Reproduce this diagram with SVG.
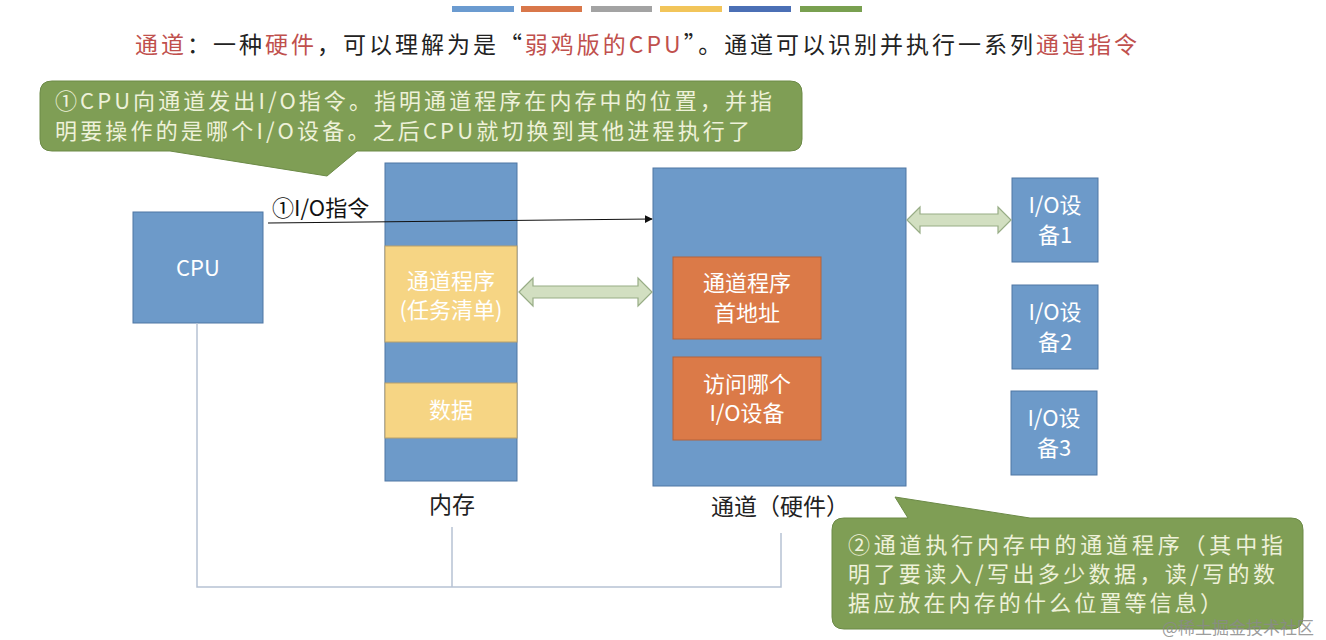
<svg xmlns="http://www.w3.org/2000/svg" width="1326" height="640" viewBox="0 0 1326 640">
<defs>
<style>
.blue{fill:#6d9ac9;stroke:#4f76a3;stroke-width:1}
.yel{fill:#f6d584;stroke:#b9a06a;stroke-width:1}
.org{fill:#db7a48;stroke:#b5623a;stroke-width:1}
.call{fill:#7f9e55;stroke:#6c8a47;stroke-width:1}
.dbl{fill:#d2dfc1;stroke:#98ad86;stroke-width:1.2}
.t{font-family:"Noto Sans CJK SC","Liberation Sans",sans-serif}
.wt{fill:#ffffff;font-size:22px;text-anchor:middle}
.ct{fill:#eef1d9;font-size:22px}
.lab{fill:#222;font-size:23px;text-anchor:middle}
.red{fill:#c0504d}
.conn{fill:none;stroke:#b6c2d3;stroke-width:1.5}
</style>
<marker id="ah" viewBox="0 0 10 10" refX="9" refY="5" markerWidth="8" markerHeight="8" markerUnits="userSpaceOnUse" orient="auto">
<path d="M0,0 L10,5 L0,10 Z" fill="#111"/>
</marker>
</defs>
<rect width="1326" height="640" fill="#ffffff"/>

<g id="colorbars">
<rect x="452" y="6" width="62" height="6" fill="#6b9bd0"/>
<rect x="521" y="6" width="61" height="6" fill="#d9774a"/>
<rect x="591" y="6" width="61" height="6" fill="#a3a3a3"/>
<rect x="660" y="6" width="62" height="6" fill="#f2c55a"/>
<rect x="729" y="6" width="62" height="6" fill="#4b6fb5"/>
<rect x="800" y="6" width="62" height="6" fill="#79a050"/>
</g>

<g id="title">
<text class="t" x="135" y="53" font-size="23" fill="#222" textLength="1002" lengthAdjust="spacing"><tspan class="red">通道</tspan>：一种<tspan class="red">硬件</tspan>，可以理解为是“<tspan class="red">弱鸡版的CPU</tspan>”。通道可以识别并执行一系列<tspan class="red">通道指令</tspan></text>
</g>

<g id="cpu">
<rect class="blue" x="133" y="212" width="130" height="111"/>
<text class="t wt" x="198" y="276">CPU</text>
</g>

<g id="memory">
<rect class="blue" x="385" y="163" width="132" height="318"/>
<rect class="yel" x="385" y="246" width="132" height="96"/>
<text class="t wt" x="451" y="289" fill="#fdf6e2">通道程序</text>
<text class="t wt" x="451" y="318" fill="#fdf6e2">(任务清单)</text>
<rect class="yel" x="385" y="383" width="132" height="55"/>
<text class="t wt" x="451" y="418" fill="#fdf6e2">数据</text>
<text class="t lab" x="452" y="513">内存</text>
</g>

<g id="channel">
<rect class="blue" x="653" y="168" width="253" height="318"/>
<rect class="org" x="673" y="257" width="148" height="82"/>
<text class="t wt" x="747" y="291" fill="#f8e6d8">通道程序</text>
<text class="t wt" x="747" y="321" fill="#f8e6d8">首地址</text>
<rect class="org" x="673" y="357" width="148" height="83"/>
<text class="t wt" x="747" y="392" fill="#f8e6d8">访问哪个</text>
<text class="t wt" x="747" y="421" fill="#f8e6d8">I/O设备</text>
<text class="t lab" x="780" y="515">通道（硬件）</text>
</g>

<g id="io1">
<rect class="blue" x="1012" y="178" width="86" height="84"/>
<text class="t wt" x="1055" y="213">I/O设</text>
<text class="t wt" x="1055" y="243">备1</text>
</g>
<g id="io2">
<rect class="blue" x="1012" y="285" width="86" height="84"/>
<text class="t wt" x="1055" y="320">I/O设</text>
<text class="t wt" x="1055" y="350">备2</text>
</g>
<g id="io3">
<rect class="blue" x="1011" y="391" width="86" height="84"/>
<text class="t wt" x="1054" y="426">I/O设</text>
<text class="t wt" x="1054" y="456">备3</text>
</g>

<g id="connectors">
<polyline class="conn" points="197,323 197,587 781,587 781,533"/>
<line class="conn" x1="452" y1="527" x2="452" y2="587"/>
<line x1="268" y1="223" x2="652" y2="219" stroke="#111" stroke-width="1.2" marker-end="url(#ah)"/>
<text class="t" x="272" y="216" font-size="22" fill="#111">①I/O指令</text>
<path class="dbl" d="M519,292 L533,278 V286 H638 V278 L652,292 L638,306 V298 H533 V306 Z"/>
<path class="dbl" d="M907,220 L920,207 V214 H998 V207 L1011,220 L998,233 V226 H920 V233 Z"/>
</g>

<g id="callout1">
<path class="call" d="M52,81 H790 Q802,81 802,93 V139 Q802,151 790,151 H357 L327,176 L170,151 H52 Q40,151 40,139 V93 Q40,81 52,81 Z"/>
<text class="t ct" x="55" y="109" textLength="717" lengthAdjust="spacing">①CPU向通道发出I/O指令。指明通道程序在内存中的位置，并指</text>
<text class="t ct" x="55" y="139" textLength="695" lengthAdjust="spacing">明要操作的是哪个I/O设备。之后CPU就切换到其他进程执行了</text>
</g>

<g id="callout2">
<path class="call" d="M844,518 H908 L895,497 L1030,518 H1291 Q1303,518 1303,530 V617 Q1303,629 1291,629 H844 Q832,629 832,617 V530 Q832,518 844,518 Z"/>
<text class="t ct" x="848" y="553" font-size="23" textLength="435" lengthAdjust="spacing">②通道执行内存中的通道程序（其中指</text>
<text class="t ct" x="848" y="582" font-size="23" textLength="427" lengthAdjust="spacing">明了要读入/写出多少数据，读/写的数</text>
<text class="t ct" x="848" y="611" font-size="23" textLength="374" lengthAdjust="spacing">据应放在内存的什么位置等信息）</text>
</g>

<g id="watermark">
<text class="t" x="1162" y="634" font-size="17" fill="#8a8a8a" fill-opacity="0.85">@稀土掘金技术社区</text>
</g>
</svg>
